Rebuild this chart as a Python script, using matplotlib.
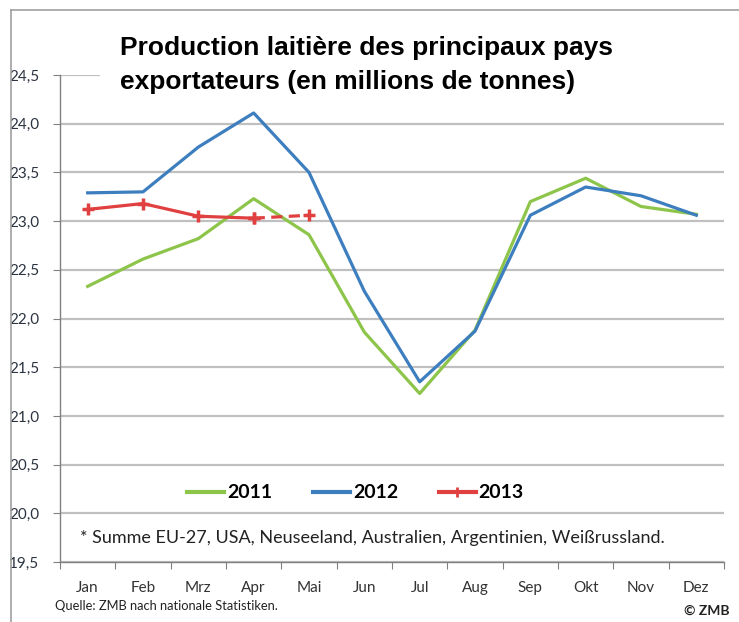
import numpy as np
import matplotlib.pyplot as plt
from matplotlib.patches import Rectangle
from matplotlib.lines import Line2D

months = ["Jan", "Feb", "Mrz", "Apr", "Mai", "Jun", "Jul", "Aug", "Sep", "Okt", "Nov", "Dez"]
y2011 = [22.33, 22.61, 22.82, 23.23, 22.86, 21.86, 21.23, 21.88, 23.20, 23.44, 23.15, 23.07]
y2012 = [23.29, 23.30, 23.76, 24.11, 23.50, 22.28, 21.35, 21.87, 23.06, 23.35, 23.26, 23.06]
y2013 = [23.12, 23.18, 23.05, 23.03]   # Jan-Apr, solid
y2013_est = [23.03, 23.06]             # Apr-Mai, dashed
yticks = np.arange(19.5, 24.51, 0.5)

green = "#8dc44a"
blue = "#3d7ebf"
red = "#e04040"

W, H = 739, 622
fig = plt.figure(figsize=(W / 100, H / 100), dpi=100)
fig.patch.set_facecolor("white")

# outer frame (top and left border of the scan)
fig.add_artist(Line2D([11 / W, 11 / W], [0, 1 - 10 / H], color="#a0a0a0", lw=1.2))
fig.add_artist(Line2D([11 / W, 1], [1 - 10 / H, 1 - 10 / H], color="#a0a0a0", lw=1.2))

ax = fig.add_axes([60 / W, 60 / H, 664 / W, 487 / H])
x = np.arange(len(months))
ax.set_xlim(-0.5, 11.5)
ax.set_ylim(19.5, 24.5)

ax.set_yticks(yticks)
ax.set_yticklabels([f"{v:.1f}".replace(".", ",") for v in yticks])
ax.yaxis.grid(True, color="#c0c0c0", lw=1.6, zorder=0)
ax.set_axisbelow(True)

ax.set_xticks(np.arange(-0.5, 12, 1))
ax.set_xticklabels([])
ax.set_xticks(x, minor=True)
ax.set_xticklabels(months, minor=True)
ax.tick_params(axis="x", which="minor", length=0, pad=14, labelsize=11, labelcolor="#333333")
ax.tick_params(axis="x", which="major", length=5, color="#808080", direction="out")
ax.tick_params(axis="y", length=5, color="#808080", pad=10, labelsize=11, labelcolor="#2b3340")
for lab in ax.get_yticklabels() + ax.get_xticklabels(minor=True):
    lab.set_family("Lato")

for s in ["top", "right"]:
    ax.spines[s].set_visible(False)
for s in ["left", "bottom"]:
    ax.spines[s].set_color("#808080")
    ax.spines[s].set_linewidth(1.0)

ax.plot(x, y2011, color=green, lw=2.3, zorder=3)
ax.plot(x, y2012, color=blue, lw=2.3, zorder=3)
ax.plot(x[:4], y2013, color=red, lw=2.3, marker="+", ms=8, mew=2.5, zorder=4)
ax.plot(x[3:5], y2013_est, color=red, lw=2.3, ls=(0, (3.5, 2)), marker="+", ms=8, mew=2.5, zorder=4)

# white box behind title covering the top gridline
ax.add_patch(Rectangle((40 / 664, 0.975), 1.0, 0.2, transform=ax.transAxes,
                       facecolor="white", edgecolor="none", clip_on=False, zorder=2))

fig.text(120 / W, 1 - 65 / H, "Production laitière des principaux pays\nexportateurs (en millions de tonnes)",
         fontsize=19, fontweight="bold", family="Liberation Sans", va="center", ha="left",
         linespacing=1.5, color="black")

# legend
leg_items = [("2011", green, None), ("2012", blue, None), ("2013", red, "+")]
handles = [Line2D([], [], color=c, lw=3, marker=m, ms=7, mew=2) for _, c, m in leg_items]
leg = ax.legend(handles, [t for t, _, _ in leg_items], loc="center", bbox_to_anchor=(0.445, 0.142),
                ncol=3, frameon=False, handlelength=1.9, handletextpad=0.15, columnspacing=2.1,
                prop={"family": "Lato", "weight": "bold", "size": 14})

fig.text(80 / W, 1 - 538 / H, "* Summe EU-27, USA, Neuseeland, Australien, Argentinien, Weißrussland.",
         fontsize=13, family="Lato", va="center", ha="left", color="#222222")
fig.text(55 / W, 1 - 606 / H, "Quelle: ZMB nach nationale Statistiken.",
         fontsize=9.3, family="Lato", va="center", ha="left", color="#222222")
fig.text(730 / W, 1 - 611 / H, "© ZMB", fontsize=10, fontweight="bold", family="Lato",
         va="center", ha="right", color="#222222")

fig.savefig("out.png", dpi=100, facecolor="white")
